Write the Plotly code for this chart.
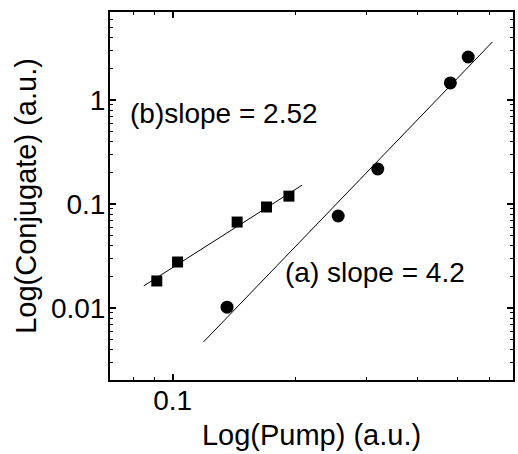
import plotly.graph_objects as go

# (b) squares
pump_b = [0.0914, 0.1028, 0.144, 0.170, 0.193]
conj_b = [0.0182, 0.0277, 0.0671, 0.0936, 0.119]
# (a) circles
pump_a = [0.136, 0.255, 0.319, 0.481, 0.532]
conj_a = [0.0102, 0.0767, 0.217, 1.46, 2.59]
# fit lines (endpoints)
fit_b_x = [0.0849, 0.208]
fit_b_y = [0.0163, 0.152]
fit_a_x = [0.119, 0.610]
fit_a_y = [0.00471, 3.61]

label_b = "(b)slope = 2.52"
label_a = "(a) slope = 4.2"

x_major = [0.1]
x_major_text = ["0.1"]
y_major = [0.01, 0.1, 1]
y_major_text = ["0.01", "0.1", "1"]
x_minor = [m * 10.0 ** e for e in (-2, -1) for m in range(2, 10)]
y_minor = [m * 10.0 ** e for e in (-3, -2, -1, 0) for m in range(2, 10)]

FONT = "Liberation Sans, Arial, sans-serif"

fig = go.Figure()
fig.add_trace(go.Scatter(x=fit_b_x, y=fit_b_y, mode="lines",
                         line=dict(color="black", width=1)))
fig.add_trace(go.Scatter(x=fit_a_x, y=fit_a_y, mode="lines",
                         line=dict(color="black", width=1)))
fig.add_trace(go.Scatter(x=pump_b, y=conj_b, mode="markers",
                         marker=dict(symbol="square", size=11, color="black")))
fig.add_trace(go.Scatter(x=pump_a, y=conj_a, mode="markers",
                         marker=dict(symbol="circle", size=13, color="black")))

fig.add_annotation(text=label_b, xref="paper", yref="paper", x=0.044, y=0.723,
                   xanchor="left", yanchor="middle", showarrow=False,
                   font=dict(family=FONT, size=28, color="black"))
fig.add_annotation(text=label_a, xref="paper", yref="paper", x=0.430, y=0.293,
                   xanchor="left", yanchor="middle", showarrow=False,
                   font=dict(family=FONT, size=28, color="black"))

fig.update_xaxes(type="log", showline=True, linecolor="black", linewidth=2,
                 mirror="allticks", ticks="inside", ticklen=6, tickwidth=1.5,
                 tickcolor="black",
                 range=[-1.154, -0.164], tickvals=x_major, ticktext=x_major_text,
                 tickfont=dict(family=FONT, size=28, color="black"),
                 ticklabelstandoff=-6,
                 minor=dict(ticks="inside", ticklen=3, tickwidth=1.2, tickcolor="black",
                            tickmode="array", tickvals=x_minor),
                 showgrid=False,
                 title=dict(text="Log(Pump) (a.u.)", standoff=10,
                            font=dict(family=FONT, size=29, color="black")))
fig.update_yaxes(type="log", showline=True, linecolor="black", linewidth=2,
                 mirror="allticks", ticks="inside", ticklen=6, tickwidth=1.5,
                 tickcolor="black",
                 range=[-2.692, 0.846], tickvals=y_major, ticktext=y_major_text,
                 tickfont=dict(family=FONT, size=28, color="black"),
                 ticklabelstandoff=-3,
                 minor=dict(ticks="inside", ticklen=3, tickwidth=1.2, tickcolor="black",
                            tickmode="array", tickvals=y_minor),
                 showgrid=False,
                 title=dict(text="Log(Conjugate) (a.u.)", standoff=6,
                            font=dict(family=FONT, size=29, color="black")))

fig.update_layout(width=518, height=454, margin=dict(l=110, r=3, t=12, b=74),
                  plot_bgcolor="white", paper_bgcolor="white", showlegend=False,
                  font=dict(family=FONT, color="black"))

fig.write_html("out.html", config={"displayModeBar": False})

# remove default page margin so the figure fills the 518x454 window exactly
with open("out.html", "r", encoding="utf-8") as f:
    html = f.read()
html = html.replace("<head>", "<head><style>html,body{margin:0;padding:0;overflow:hidden;}</style>", 1)
with open("out.html", "w", encoding="utf-8") as f:
    f.write(html)
